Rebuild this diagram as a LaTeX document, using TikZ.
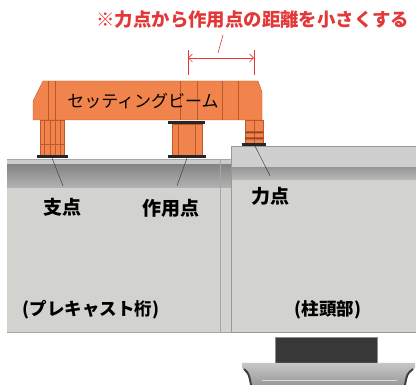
\documentclass[tikz,border=0pt]{standalone}
\usepackage{fontspec}
\newfontfamily\jp{Noto Sans CJK JP}
\usetikzlibrary{arrows.meta}
\definecolor{beam}{RGB}{240,132,76}
\definecolor{rib}{RGB}{190,88,42}
\definecolor{conc}{RGB}{210,210,207}
\definecolor{note}{RGB}{226,56,56}

\begin{document}
\begin{tikzpicture}[x=1pt,y=-1pt,
    steel/.style={fill=beam,draw=rib,line width=.4pt},
    ribline/.style={draw=rib,line width=.5pt},
    plate/.style={fill=black!85},
    lbl/.style={font=\jp\bfseries\fontsize{19}{19}\selectfont,inner sep=0pt},
    sub/.style={font=\jp\bfseries\fontsize{17.5}{17.5}\selectfont,inner sep=0pt},
    lead/.style={draw=black!75,line width=.5pt},
    dim/.style={draw=note,line width=.6pt}]
    \useasboundingbox (0,0) rectangle (416,385);

    % precast girder and pier head
    \fill[conc] (7,159) rectangle (231,332);
    \fill[black!20] (7,159) rectangle (231,165);
    \shade[top color=black!48,bottom color=black!30] (7,165) rectangle (231,188);
    \draw[black!35] (7,159) -- (231,159) (220,159) -- (220,332) (7,332) -- (231,332);
    \fill[conc] (231,146) rectangle (416,332);
    \fill[black!19] (231,146) rectangle (416,168);
    \shade[top color=black!40,bottom color=black!27] (231,168) rectangle (416,180);
    \draw[black!40] (416,146) -- (231,146) -- (231,332) -- (416,332);

    % setting beam
    \path[steel] (43,81) -- (258,81) -- (262,92) -- (262,120) -- (33,120) -- (33,101) -- cycle;
    \foreach \x in {48,55,180,197,222,238}
      \draw[ribline] (\x,81) -- (\x,120);
    \path[steel] (40,120) rectangle (64,155);
    \foreach \x in {44,50,55,60}
      \draw[ribline] (\x,120) -- (\x,155);
    \draw[ribline] (40,144) -- (64,144);
    \path[steel] (172,124) rectangle (202,155);
    \foreach \x in {178,195}
      \draw[ribline] (\x,124) -- (\x,155);
    \path[steel] (245,120) rectangle (263,143);
    \draw[ribline] (254,120) -- (254,143);
    \fill[rib!80!black] (245,131.5) rectangle (263,133.5) (245,137.5) rectangle (263,139.5);
    \fill[plate] (37,155) rectangle (68,158);
    \fill[plate] (168,121) rectangle (205,124);
    \fill[plate] (168,155) rectangle (206,158);
    \fill[plate] (242,143) rectangle (266,146);

    \coordinate (fulcrum) at (52,158);
    \coordinate (load) at (187,158);
    \coordinate (effort) at (255,146);

    \node[font=\jp\fontsize{17}{17}\selectfont,inner sep=0pt] (sb) at (143,101) {セッティングビーム};
    \node[lbl] (shiten) at (63,207) {支点};
    \node[lbl] (sayo) at (171,208) {作用点};
    \node[lbl] (rikiten) at (270,196) {力点};
    \node[sub] (pc) at (91,310) {(プレキャスト桁)};
    \node[sub] (pier) at (328,310) {(柱頭部)};

    \draw[lead] (fulcrum) -- ([yshift=12pt]shiten.north);
    \draw[lead] (load) -- ([xshift=6pt,yshift=13pt]sayo.north);
    \draw[lead] (effort) -- ([yshift=11pt]rikiten.north);

    % distance between effort and load
    \node[font=\jp\bfseries\fontsize{18.4}{18.4}\selectfont,text=note,inner sep=0pt] (memo) at (253,20) {※力点から作用点の距離を小さくする};
    \coordinate (a) at (188,58);
    \coordinate (b) at (254,58);
    \draw[dim] (188,50) -- (188,75) (254,50) -- (254,75);
    \draw[dim,{Straight Barb[length=4pt]}-{Straight Barb[length=4pt]}] (a) -- (b);
    \draw[dim] ([xshift=-30pt,yshift=-6pt]memo.south) -- (218,53);

    % bearing below the pier head
    \fill[black!78] (275,337) rectangle (377,364);
    \draw[black!45] (275,337) rectangle (377,364);
    \shade[top color=black!22,bottom color=black!40] (242,363) -- (415,363) -- (415,368)
      .. controls (409,372) .. (405,385) -- (252,385) .. controls (248,372) .. (242,368) -- cycle;
    \draw[black!75,line width=2pt] (244,369) .. controls (249,374) .. (251,385);
    \draw[black!75,line width=2pt] (413,369) .. controls (407,374) .. (405,385);
    \draw[black!15,line width=1pt] (262,381) -- (397,381);
\end{tikzpicture}
\end{document}
